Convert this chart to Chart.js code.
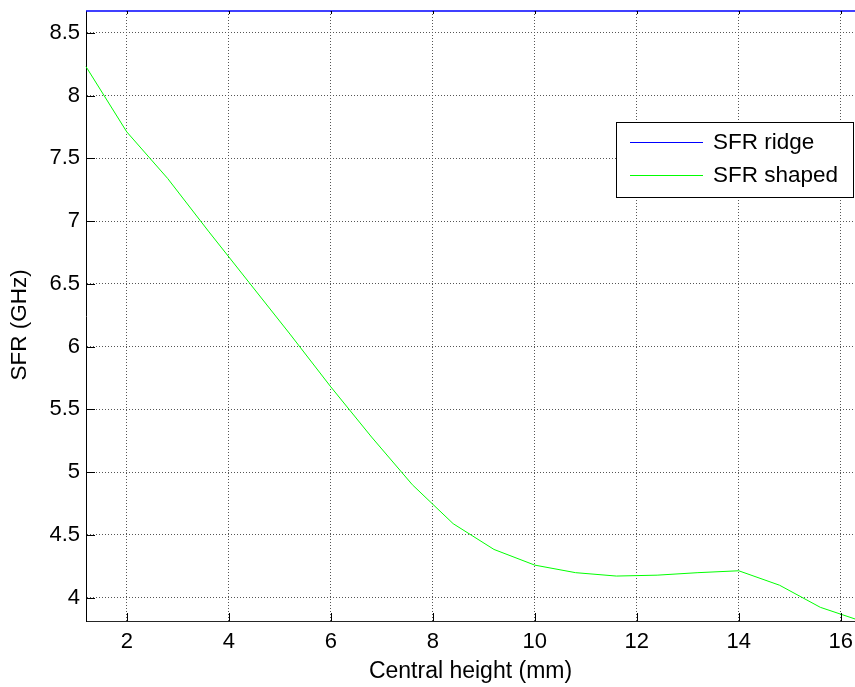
<!DOCTYPE html>
<html>
<head>
<meta charset="utf-8">
<script src="https://cdn.jsdelivr.net/npm/chart.js@4.4.1/dist/chart.umd.min.js"></script>
<style>
    html, body { margin: 0; padding: 0; background: #fff; overflow: hidden; }
    canvas { display: block; }
</style>
</head>
<body>
<canvas id="myChart" width="855" height="687"></canvas>
<script>
// Central height (mm)
var heights = [1.2, 2.0, 2.8, 3.6, 4.4, 5.2, 6.0, 6.8, 7.6, 8.4, 9.2, 10.0, 10.8, 11.6, 12.4, 13.2, 14.0, 14.8, 15.6, 16.4];

// SFR (GHz)
var sfrRidge = [8.673, 8.673, 8.673, 8.673, 8.673, 8.673, 8.673, 8.673, 8.673, 8.673, 8.673, 8.673, 8.673, 8.673, 8.673, 8.673, 8.673, 8.673, 8.673, 8.673];
var sfrShaped = [8.23, 7.71, 7.34, 6.92, 6.51, 6.10, 5.68, 5.28, 4.90, 4.59, 4.385, 4.26, 4.20, 4.173, 4.18, 4.20, 4.215, 4.10, 3.924, 3.815];

var xTicks = [2, 4, 6, 8, 10, 12, 14, 16];
var yTicks = [4, 4.5, 5, 5.5, 6, 6.5, 7, 7.5, 8, 8.5];

var FONT = '"Liberation Sans", Arial, sans-serif';

function toPoints(xs, ys) {
    return xs.map(function(x, i) { return { x: x, y: ys[i] }; });
}

// Graduations vers l'intérieur (style MATLAB), titre Y et légende encadrée
var matlabAxes = {
    id: 'matlabAxes',
    afterDatasetsDraw: function(chart) {
        var ctx = chart.ctx;
        var area = chart.chartArea;
        var xs = chart.scales.x;
        var ys = chart.scales.y;
        ctx.save();
        ctx.strokeStyle = '#000';
        ctx.lineWidth = 1;
        ctx.beginPath();
        xTicks.forEach(function(v) {
            var px = Math.round(xs.getPixelForValue(v)) + 0.5;
            ctx.moveTo(px, area.bottom);
            ctx.lineTo(px, area.bottom - 8);
            ctx.moveTo(px, area.top);
            ctx.lineTo(px, area.top + 3);
        });
        yTicks.forEach(function(v) {
            var py = Math.round(ys.getPixelForValue(v)) + 0.5;
            ctx.moveTo(area.left, py);
            ctx.lineTo(area.left + 9, py);
        });
        ctx.stroke();

        // Titre de l'axe Y
        ctx.translate(20, 325);
        ctx.rotate(-Math.PI / 2);
        ctx.font = '22.5px ' + FONT;
        ctx.fillStyle = '#000';
        ctx.textAlign = 'center';
        ctx.textBaseline = 'middle';
        ctx.fillText('SFR (GHz)', 0, 0);
        ctx.restore();
    },
    afterDraw: function(chart) {
        var ctx = chart.ctx;
        var bx = 616.5, by = 122.5, bw = 237, bh = 75;
        ctx.save();
        ctx.fillStyle = '#fff';
        ctx.fillRect(bx, by, bw, bh);
        ctx.strokeStyle = '#000';
        ctx.lineWidth = 1;
        ctx.strokeRect(bx, by, bw, bh);
        ctx.font = '22.5px ' + FONT;
        ctx.textBaseline = 'middle';
        ctx.fillStyle = '#000';
        var rows = [142, 175];
        chart.data.datasets.forEach(function(ds, i) {
            ctx.strokeStyle = ds.borderColor;
            ctx.beginPath();
            ctx.moveTo(630, rows[i] + 0.5);
            ctx.lineTo(703, rows[i] + 0.5);
            ctx.stroke();
            ctx.fillText(ds.label, 713, rows[i] + 1);
        });
        ctx.restore();
    }
};

var ctx = document.getElementById('myChart').getContext('2d');
var myChart = new Chart(ctx, {
    type: 'line',
    data: {
        datasets: [
            {
                label: 'SFR ridge',
                data: toPoints(heights, sfrRidge),
                borderColor: '#0000ff',
                borderWidth: 1.3,
                pointRadius: 0,
                clip: false,
                fill: false
            },
            {
                label: 'SFR shaped',
                data: toPoints(heights, sfrShaped),
                borderColor: '#00ff00',
                borderWidth: 1,
                pointRadius: 0,
                clip: false,
                fill: false
            }
        ]
    },
    options: {
        responsive: false,
        animation: false,
        layout: { padding: { top: 11, right: 0, left: 0, bottom: 0 } },
        plugins: {
            legend: { display: false },
            tooltip: { enabled: false }
        },
        scales: {
            x: {
                type: 'linear',
                min: 1.2,
                max: 16.28,
                afterFit: function(scale) {
                    scale.height = 66;
                    scale.paddingLeft = 0;
                    scale.paddingRight = 0;
                },
                afterBuildTicks: function(scale) {
                    scale.ticks = xTicks.map(function(v) { return { value: v }; });
                },
                ticks: {
                    color: '#000',
                    padding: 8,
                    maxRotation: 0,
                    autoSkip: false,
                    font: { family: FONT, size: 22 }
                },
                grid: {
                    color: '#555',
                    drawTicks: false,
                    lineWidth: 1
                },
                border: { display: true, color: '#262626', width: 1, dash: [1, 2] },
                title: {
                    display: true,
                    text: 'Central height (mm)',
                    color: '#000',
                    padding: { top: 0, bottom: 2 },
                    font: { family: FONT, size: 23 }
                }
            },
            y: {
                min: 3.815,
                max: 8.673,
                afterFit: function(scale) {
                    scale.width = 86;
                    scale.paddingTop = 0;
                    scale.paddingBottom = 0;
                },
                afterBuildTicks: function(scale) {
                    scale.ticks = yTicks.map(function(v) { return { value: v }; });
                },
                ticks: {
                    color: '#000',
                    padding: 6,
                    autoSkip: false,
                    font: { family: FONT, size: 22 },
                    callback: function(v) { return String(v); }
                },
                grid: {
                    color: '#555',
                    drawTicks: false,
                    lineWidth: 1
                },
                border: { display: true, color: '#000', width: 1, dash: [1, 2] }
            }
        }
    },
    plugins: [matlabAxes]
});
</script>
</body>
</html>
